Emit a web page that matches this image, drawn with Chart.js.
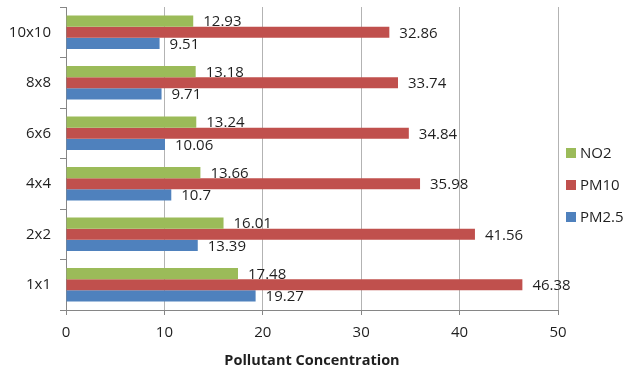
<!DOCTYPE html>
<html>
<head>
<meta charset="utf-8">
<script src="https://cdn.jsdelivr.net/npm/chart.js@4/dist/chart.umd.min.js"></script>
<style>
  html, body { margin: 0; padding: 0; background: #fff; }
  #wrap { width: 625px; height: 371px; position: relative; }
</style>
</head>
<body>
<div id="wrap"><canvas id="c" width="625" height="371"></canvas></div>
<script>
// Grid sizes, listed top to bottom
const categories = ['10x10', '8x8', '6x6', '4x4', '2x2', '1x1'];
// Concentrations per pollutant
const no2Values  = [12.93, 13.18, 13.24, 13.66, 16.01, 17.48];
const pm10Values = [32.86, 33.74, 34.84, 35.98, 41.56, 46.38];
const pm25Values = [9.51, 9.71, 10.06, 10.7, 13.39, 19.27];
const seriesNames = ['NO2', 'PM10', 'PM2.5'];
const xTicks = [0, 10, 20, 30, 40, 50];

const FONT = '"Open Sans", "DejaVu Sans", sans-serif';
const TEXT = '#1f1f1f';
const colors = ['#9BBB59', '#C0504D', '#4F81BD'];

// Value labels at the end of each bar
const valueLabels = {
  id: 'valueLabels',
  afterDatasetsDraw(chart) {
    const ctx = chart.ctx;
    ctx.save();
    ctx.font = '15px ' + FONT;
    ctx.fillStyle = TEXT;
    ctx.textAlign = 'left';
    ctx.textBaseline = 'middle';
    chart.data.datasets.forEach((ds, i) => {
      chart.getDatasetMeta(i).data.forEach((bar, j) => {
        ctx.fillText(String(ds.data[j]), bar.x + 10, bar.y + 1);
      });
    });
    ctx.restore();
  }
};

// Vertical legend on the right
const sideLegend = {
  id: 'sideLegend',
  afterDraw(chart) {
    const ctx = chart.ctx;
    ctx.save();
    ctx.font = '15px ' + FONT;
    ctx.textBaseline = 'middle';
    ctx.textAlign = 'left';
    seriesNames.forEach((name, i) => {
      const y = 153 + i * 32;
      ctx.fillStyle = colors[i];
      ctx.fillRect(566, y - 5, 10, 10);
      ctx.fillStyle = TEXT;
      ctx.fillText(name, 580, y + 1);
    });
    ctx.restore();
  }
};

new Chart(document.getElementById('c'), {
  type: 'bar',
  data: {
    labels: categories,
    datasets: [
      { label: seriesNames[0], data: no2Values,  backgroundColor: colors[0] },
      { label: seriesNames[1], data: pm10Values, backgroundColor: colors[1] },
      { label: seriesNames[2], data: pm25Values, backgroundColor: colors[2] }
    ]
  },
  options: {
    indexAxis: 'y',
    responsive: false,
    animation: false,
    devicePixelRatio: 1,
    layout: { padding: { top: 7, right: 67, left: 0, bottom: 0 } },
    datasets: { bar: { categoryPercentage: 0.66, barPercentage: 1.0 } },
    plugins: { legend: { display: false }, tooltip: { enabled: false } },
    scales: {
      x: {
        min: 0, max: 50,
        afterBuildTicks(scale) { scale.ticks = xTicks.map(v => ({ value: v })); },
        afterFit(scale) { scale.height = 61; scale.paddingLeft = 0; scale.paddingRight = 0; },
        grid: { color: '#b3b3b3', lineWidth: 1, drawTicks: true, tickLength: 5, tickColor: '#868686' },
        border: { color: '#868686' },
        ticks: { font: { family: FONT, size: 15 }, color: TEXT, padding: 9 },
        title: {
          display: true, text: 'Pollutant Concentration',
          font: { family: FONT, size: 14.5, weight: 'bold' }, color: TEXT,
          padding: { top: 0, bottom: 1 }
        }
      },
      y: {
        afterFit(scale) { scale.width = 66; scale.paddingTop = 0; scale.paddingBottom = 0; },
        grid: { display: true, drawOnChartArea: false, offset: true, tickLength: 6, color: '#868686' },
        border: { color: '#868686' },
        ticks: { font: { family: FONT, size: 15 }, color: TEXT, padding: 9 }
      }
    }
  },
  plugins: [valueLabels, sideLegend]
});
</script>
</body>
</html>
